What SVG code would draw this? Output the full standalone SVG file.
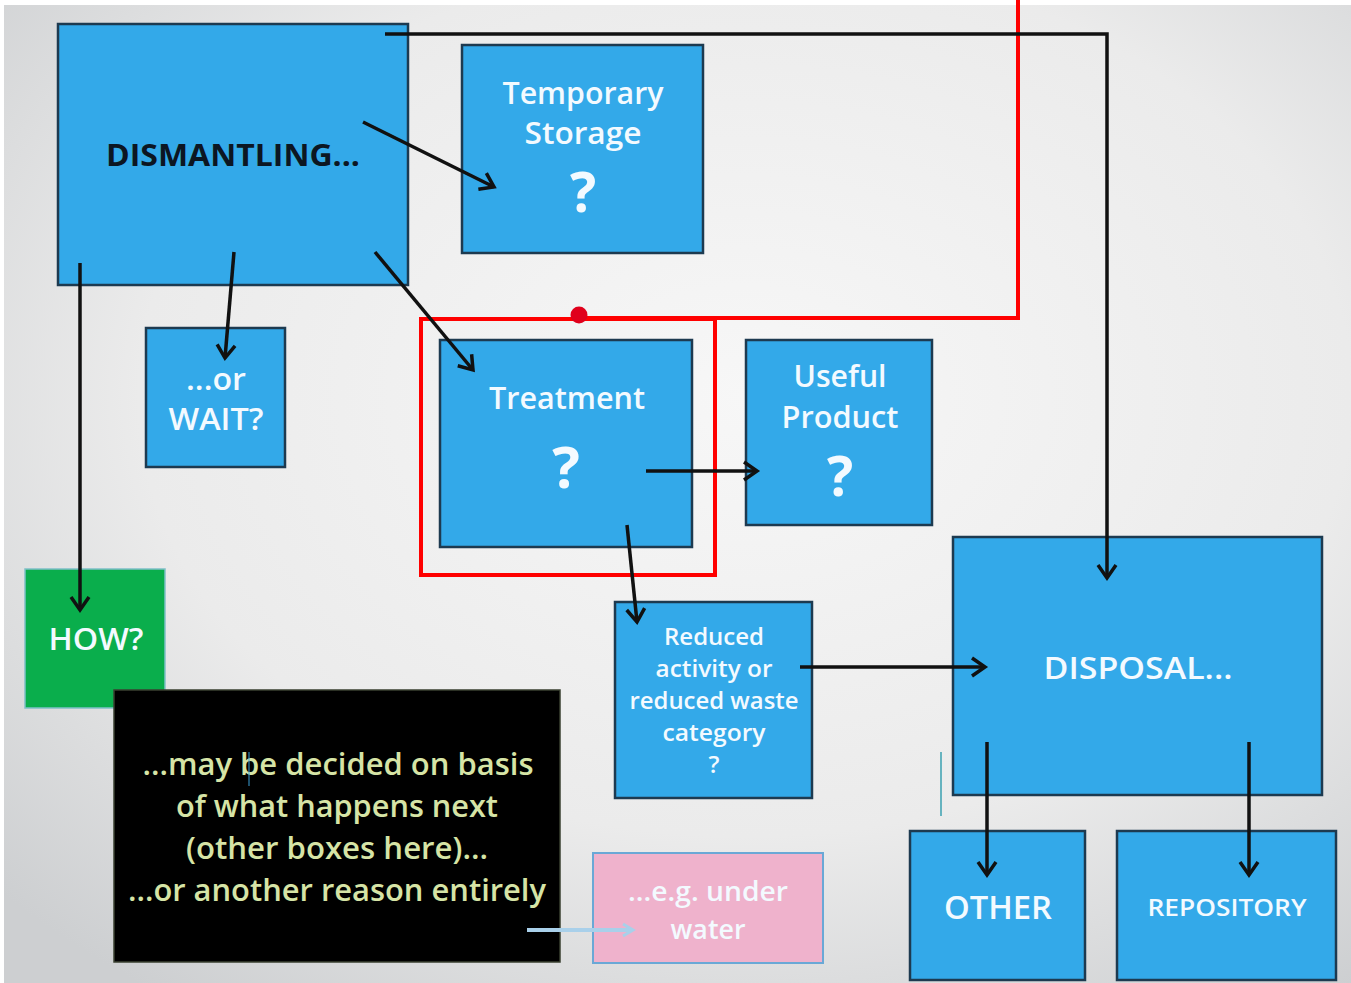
<svg xmlns="http://www.w3.org/2000/svg" width="1351" height="983" viewBox="0 0 1351 983">
<defs>
<radialGradient id="bg" cx="0.55" cy="0.4" r="0.75">
<stop offset="0" stop-color="#f7f7f7"/>
<stop offset="0.6" stop-color="#ebebeb"/>
<stop offset="1" stop-color="#cdcfd1"/>
</radialGradient>
<marker id="ah" viewBox="-16 -12 20 24" markerWidth="20" markerHeight="24" refX="0" refY="0" orient="auto" markerUnits="userSpaceOnUse">
<path d="M-13,-9 L0,0 L-13,9" fill="none" stroke="#111" stroke-width="3.5" stroke-linejoin="miter"/>
</marker>
<marker id="ahb" viewBox="-16 -12 20 24" markerWidth="20" markerHeight="24" refX="0" refY="0" orient="auto" markerUnits="userSpaceOnUse">
<path d="M-10,-6 L0,0 L-10,6" fill="none" stroke="#a9d0ea" stroke-width="3"/>
</marker>
</defs>
<style>
.box{fill:#33a9e9;stroke:#1d3a50;stroke-width:2.5}
.t{font-family:"Open Sans","Noto Sans",sans-serif;font-weight:600;fill:#f3faff;text-anchor:middle}
.q{font-family:"Open Sans","Noto Sans",sans-serif;font-weight:700;fill:#f3faff;text-anchor:middle}
.c{fill:none;stroke:#111;stroke-width:3.5}
.n{font-family:"Open Sans","Noto Sans",sans-serif;font-weight:600;fill:#d6e4a6;text-anchor:middle}
</style>
<rect x="0" y="0" width="1351" height="983" fill="#ffffff"/>
<rect x="4" y="5" width="1347" height="978" fill="url(#bg)"/>

<g id="dismantling">
<rect class="box" x="58" y="24" width="350" height="261"/>
<text x="233" y="166" font-family="Open Sans, Noto Sans, sans-serif" font-weight="700" font-size="30" fill="#0c1622" text-anchor="middle" textLength="254" lengthAdjust="spacingAndGlyphs">DISMANTLING...</text>
</g>

<g id="temporary-storage">
<rect class="box" x="462" y="45" width="241" height="208"/>
<text class="t" x="583" y="104" font-size="31" textLength="161" lengthAdjust="spacingAndGlyphs">Temporary</text>
<text class="t" x="583" y="144" font-size="31" textLength="117" lengthAdjust="spacingAndGlyphs">Storage</text>
<text class="q" x="583" y="212" font-size="55">?</text>
</g>

<g id="wait">
<rect class="box" x="146" y="328" width="139" height="139"/>
<text class="t" x="216" y="390" font-size="30" textLength="60" lengthAdjust="spacingAndGlyphs">...or</text>
<text class="t" x="216" y="430" font-size="30" textLength="95" lengthAdjust="spacingAndGlyphs">WAIT?</text>
</g>

<g id="treatment">
<rect class="box" x="440" y="340" width="252" height="207"/>
<text class="t" x="567" y="409" font-size="31" textLength="156" lengthAdjust="spacingAndGlyphs">Treatment</text>
<text class="q" x="566" y="488" font-size="58">?</text>
</g>

<g id="useful-product">
<rect class="box" x="746" y="340" width="186" height="185"/>
<text class="t" x="840" y="387" font-size="31" textLength="93" lengthAdjust="spacingAndGlyphs">Useful</text>
<text class="t" x="840" y="428" font-size="31" textLength="117" lengthAdjust="spacingAndGlyphs">Product</text>
<text class="q" x="840" y="496" font-size="55">?</text>
</g>

<g id="disposal">
<rect class="box" x="953" y="537" width="369" height="258"/>
<text class="t" x="1138" y="679" font-size="30" textLength="189" lengthAdjust="spacingAndGlyphs">DISPOSAL...</text>
</g>

<g id="reduced">
<rect class="box" x="615" y="602" width="197" height="196"/>
<text class="t" x="714" y="645" font-size="24" textLength="100" lengthAdjust="spacingAndGlyphs">Reduced</text>
<text class="t" x="714" y="677" font-size="24" textLength="117" lengthAdjust="spacingAndGlyphs">activity or</text>
<text class="t" x="714" y="709" font-size="24" textLength="169" lengthAdjust="spacingAndGlyphs">reduced waste</text>
<text class="t" x="714" y="741" font-size="24" textLength="103" lengthAdjust="spacingAndGlyphs">category</text>
<text class="t" x="714" y="773" font-size="24">?</text>
</g>

<g id="how">
<rect x="25" y="569" width="140" height="139" fill="#0aae4c" stroke="#7fc0c8" stroke-width="1.5"/>
<text class="t" x="96" y="650" font-size="30" textLength="95" lengthAdjust="spacingAndGlyphs">HOW?</text>
</g>

<g id="note">
<rect x="114" y="690" width="446" height="272" fill="#000000" stroke="#3a4030" stroke-width="1.5"/>
<text class="n" x="338" y="775" font-size="31" textLength="391" lengthAdjust="spacingAndGlyphs">...may be decided on basis</text>
<text class="n" x="337" y="817" font-size="31" textLength="322" lengthAdjust="spacingAndGlyphs">of what happens next</text>
<text class="n" x="337" y="859" font-size="31" textLength="302" lengthAdjust="spacingAndGlyphs">(other boxes here)...</text>
<text class="n" x="337" y="901" font-size="31" textLength="418" lengthAdjust="spacingAndGlyphs">...or another reason entirely</text>
<line x1="249" y1="752" x2="249" y2="786" stroke="#3aa0d8" stroke-width="1"/>
</g>

<g id="under-water">
<rect x="593" y="853" width="230" height="110" fill="#efb2cc" stroke="#6aa8d6" stroke-width="2"/>
<text class="t" x="708" y="901" font-size="27" textLength="160" lengthAdjust="spacingAndGlyphs">...e.g. under</text>
<text class="t" x="708" y="939" font-size="27" textLength="75" lengthAdjust="spacingAndGlyphs">water</text>
</g>

<g id="other">
<rect class="box" x="910" y="831" width="175" height="149"/>
<text class="t" x="998" y="919" font-size="32" textLength="108" lengthAdjust="spacingAndGlyphs">OTHER</text>
</g>

<g id="repository">
<rect class="box" x="1117" y="831" width="219" height="149"/>
<text class="t" x="1227" y="916" font-size="24" textLength="159" lengthAdjust="spacingAndGlyphs">REPOSITORY</text>
</g>

<g id="highlight">
<rect x="421" y="319" width="294" height="256" fill="none" stroke="#ff0000" stroke-width="4"/>
<polyline points="579,318 1018,318 1018,0" fill="none" stroke="#ff0000" stroke-width="4"/>
<circle cx="579" cy="315" r="8.5" fill="#e0001b"/>
</g>

<g id="connectors">
<polyline class="c" points="385,34 1107,34 1107,578" marker-end="url(#ah)"/>
<line class="c" x1="363" y1="122" x2="494" y2="187" marker-end="url(#ah)"/>
<line class="c" x1="234" y1="252" x2="225" y2="358" marker-end="url(#ah)"/>
<line class="c" x1="80" y1="263" x2="80" y2="610" marker-end="url(#ah)"/>
<line class="c" x1="375" y1="252" x2="473" y2="370" marker-end="url(#ah)"/>
<line class="c" x1="646" y1="471" x2="757" y2="471" marker-end="url(#ah)"/>
<line class="c" x1="627" y1="525" x2="637" y2="622" marker-end="url(#ah)"/>
<line class="c" x1="800" y1="667" x2="985" y2="667" marker-end="url(#ah)"/>
<line class="c" x1="987" y1="742" x2="987" y2="875" marker-end="url(#ah)"/>
<line class="c" x1="1249" y1="742" x2="1249" y2="875" marker-end="url(#ah)"/>
<line x1="527" y1="930" x2="633" y2="930" stroke="#a9d0ea" stroke-width="4" marker-end="url(#ahb)"/>
<line x1="941" y1="752" x2="941" y2="816" stroke="#3aa0b0" stroke-width="1.5"/>
</g>
</svg>
